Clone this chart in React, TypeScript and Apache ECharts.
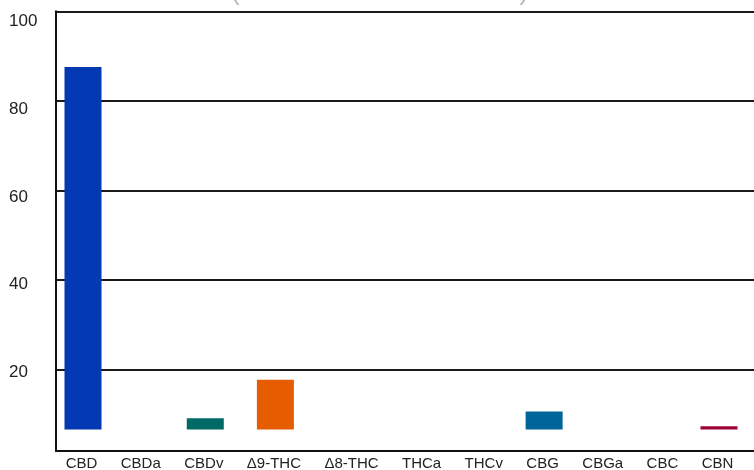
import React, { useEffect, useRef } from 'react';
import * as echarts from 'echarts';

const titleText = '(% of Total Cannabinoids)';
const categories = ['CBD', 'CBDa', 'CBDv', 'Δ9-THC', 'Δ8-THC', 'THCa', 'THCv', 'CBG', 'CBGa', 'CBC', 'CBN'];
const topValues: (number | null)[] = [87.6, null, 9.2, 17.8, null, null, null, 10.7, null, null, 7.4];
const baseValues: (number | null)[] = [6.7, null, 6.7, 6.7, null, null, null, 6.7, null, null, 6.7];
const yTicks = [20, 40, 60, 80, 100];

const barColors: Record<string, string> = {
  CBD: '#0339b3',
  CBDv: '#006b66',
  'Δ9-THC': '#e65c00',
  CBG: '#006699',
  CBN: '#9e0038',
};

const FONT = '"Liberation Sans", Arial, Helvetica, sans-serif';

export default function App() {
  const ref = useRef<HTMLDivElement>(null);
  useEffect(() => {
    const chart = echarts.init(ref.current!, null, { renderer: 'svg' });
    // category slots sized by label width (flex-like layout)
    const ctx = document.createElement('canvas').getContext('2d')!;
    ctx.font = '15px ' + FONT;
    const widths = categories.map((c) => ctx.measureText(c).width);
    const firstC = 25.5;
    const lastC = 661.5;
    const n = categories.length;
    const sumW = widths.reduce((a, b) => a + b, 0);
    const gap = (lastC - firstC - (sumW - widths[0] / 2 - widths[n - 1] / 2)) / (n - 1);
    const centers: number[] = [firstC];
    for (let i = 1; i < n; i++) {
      centers.push(centers[i - 1] + (widths[i - 1] + widths[i]) / 2 + gap);
    }
    const shown = categories.map((_, i) => i).filter((i) => topValues[i] != null);
    const nearest = (v: number) => {
      let best = 0;
      centers.forEach((c, i) => {
        if (Math.abs(c - v) < Math.abs(centers[best] - v)) best = i;
      });
      return best;
    };

    chart.setOption({
      animation: false,
      textStyle: { fontFamily: FONT },
      grid: { left: 56, top: 11.3, right: 0, height: 441.4 },
      graphic: [
        {
          type: 'text',
          x: 379.5,
          y: -9,
          style: {
            text: titleText,
            fontSize: 26,
            fontFamily: FONT,
            fill: '#b8b8b8',
            align: 'center',
            verticalAlign: 'middle',
          },
        },
      ],
      xAxis: {
        type: 'value',
        min: 0,
        max: 698,
        axisLine: { show: true, lineStyle: { color: '#111', width: 2 } },
        axisTick: { show: false },
        splitLine: { show: false },
        axisLabel: {
          customValues: centers,
          formatter: (v: number) => categories[nearest(v)],
          fontSize: 15,
          color: '#222',
          margin: 4,
          fontFamily: FONT,
        },
      },
      yAxis: [
        {
          type: 'value',
          min: 1.9,
          max: 100,
          axisLine: { show: true, lineStyle: { color: '#111', width: 2 } },
          axisTick: { show: false, customValues: yTicks },
          axisLabel: { show: false, customValues: yTicks },
          splitLine: { show: true, lineStyle: { color: '#1a1a1a', width: 2 } },
        },
        {
          type: 'value',
          position: 'left',
          min: 1.9,
          max: 102.2,
          axisLine: { show: false },
          axisTick: { show: false, customValues: yTicks },
          splitLine: { show: false },
          axisLabel: {
            customValues: yTicks,
            align: 'left',
            margin: 47,
            fontSize: 17,
            color: '#222',
            padding: [4, 0, 0, 0],
            fontFamily: FONT,
          },
        },
      ],
      series: [
        {
          type: 'custom',
          xAxisIndex: 0,
          yAxisIndex: 0,
          clip: true,
          data: shown.map((i) => [centers[i], baseValues[i], topValues[i], i]),
          encode: { x: 0, y: [1, 2] },
          renderItem: (params: any, api: any) => {
            const x = api.value(0);
            const lo = api.value(1);
            const hi = api.value(2);
            const idx = api.value(3);
            const pTop = api.coord([x, hi]);
            const pBot = api.coord([x, lo]);
            const w = 37;
            const shift = 1.5;
            return {
              type: 'rect',
              shape: { x: pTop[0] - w / 2 + shift, y: pTop[1], width: w, height: pBot[1] - pTop[1] },
              style: { fill: barColors[categories[idx]] },
            };
          },
        },
      ],
    });
    return () => chart.dispose();
  }, []);
  return <div ref={ref} style={{ position: 'fixed', left: 0, top: 0, width: 754, height: 470 }} />;
}
